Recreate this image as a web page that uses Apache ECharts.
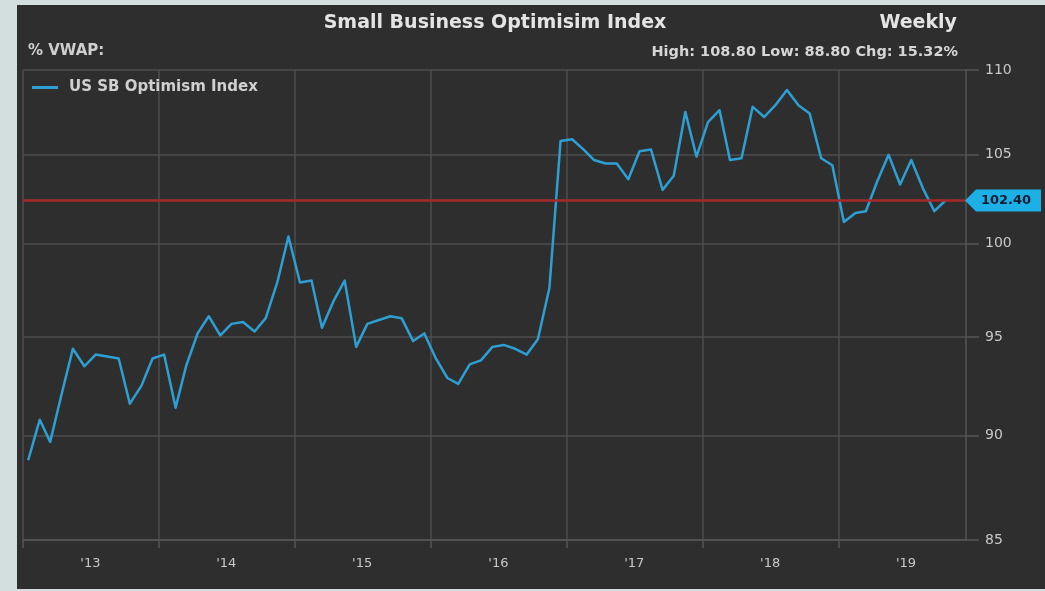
<!DOCTYPE html>
<html><head><meta charset="utf-8">
<script src="https://cdn.jsdelivr.net/npm/echarts@6/dist/echarts.min.js"></script>
<style>
html,body{margin:0;padding:0;width:1045px;height:591px;background:#d3dfdf;overflow:hidden}
#chart{position:absolute;left:17px;top:5px;width:1028px;height:584px;background:#2e2e2e}
</style></head><body><div id="chart"></div>
<script>
const months = [
 '2013-01-15','2013-02-15','2013-03-15','2013-04-15','2013-05-15','2013-06-15','2013-07-15','2013-08-15','2013-09-15','2013-10-15','2013-11-15','2013-12-15',
 '2014-01-15','2014-02-15','2014-03-15','2014-04-15','2014-05-15','2014-06-15','2014-07-15','2014-08-15','2014-09-15','2014-10-15','2014-11-15','2014-12-15',
 '2015-01-15','2015-02-15','2015-03-15','2015-04-15','2015-05-15','2015-06-15','2015-07-15','2015-08-15','2015-09-15','2015-10-15','2015-11-15','2015-12-15',
 '2016-01-15','2016-02-15','2016-03-15','2016-04-15','2016-05-15','2016-06-15','2016-07-15','2016-08-15','2016-09-15','2016-10-15','2016-11-15','2016-12-15',
 '2017-01-15','2017-02-15','2017-03-15','2017-04-15','2017-05-15','2017-06-15','2017-07-15','2017-08-15','2017-09-15','2017-10-15','2017-11-15','2017-12-15',
 '2018-01-15','2018-02-15','2018-03-15','2018-04-15','2018-05-15','2018-06-15','2018-07-15','2018-08-15','2018-09-15','2018-10-15','2018-11-15','2018-12-15',
 '2019-01-15','2019-02-15','2019-03-15','2019-04-15','2019-05-15','2019-06-15','2019-07-15','2019-08-15','2019-09-15','2019-10-15'
];
const values = [
 88.8, 90.8, 89.7, 92.1, 94.4, 93.5, 94.1, 94.0, 93.9, 91.6, 92.5, 93.9,
 94.1, 91.4, 93.5, 95.2, 96.1, 95.1, 95.7, 95.8, 95.3, 96.0, 97.9, 100.4,
 97.9, 98.0, 95.5, 96.9, 98.0, 94.5, 95.7, 95.9, 96.1, 96.0, 94.8, 95.2,
 93.9, 92.9, 92.6, 93.6, 93.8, 94.5, 94.6, 94.4, 94.1, 94.9, 97.6, 105.8,
 105.9, 105.3, 104.7, 104.5, 104.5, 103.6, 105.2, 105.3, 103.0, 103.8, 107.5, 104.9,
 106.9, 107.6, 104.7, 104.8, 107.8, 107.2, 107.9, 108.8, 107.9, 107.4, 104.8, 104.4,
 101.2, 101.7, 101.8, 103.5, 105.0, 103.3, 104.7, 103.1, 101.8, 102.4
];
const yTicks = [85, 90, 95, 100, 105, 110];
const yearStarts = ['2013-01-01','2014-01-01','2015-01-01','2016-01-01','2017-01-01','2018-01-01','2019-01-01'];
const yearLabels = ['2013-07-01','2014-07-01','2015-07-01','2016-07-01','2017-07-01','2018-07-01','2019-07-01'];
const xMin = '2013-01-01';
const xMax = '2019-12-09';
const yMin = 85, yMax = 110;
const seriesName = 'US SB Optimism Index';
const titleText = 'Small Business Optimisim Index';
const freqText = 'Weekly';
const leftNote = '% VWAP:';
const statsText = 'High: 108.80 Low: 88.80 Chg: 15.32%';

const ts = s => Date.parse(s + 'T00:00:00Z');
const lastValue = values[values.length - 1];
const data = months.map((m, i) => [ts(m), values[i]]);
const FONT = '"DejaVu Sans", "Liberation Sans", sans-serif';

const chart = echarts.init(document.getElementById('chart'), null, {renderer: 'canvas'});
chart.setOption({
  backgroundColor: '#2e2e2e',
  animation: false,
  textStyle: {fontFamily: FONT},
  graphic: [
    {type: 'text', x: 478, y: 18, style: {text: titleText, fill: '#e4e4e4', font: 'bold 19px ' + FONT, textAlign: 'center', textVerticalAlign: 'middle'}},
    {type: 'text', x: 940, y: 18, style: {text: freqText, fill: '#e4e4e4', font: 'bold 19px ' + FONT, textAlign: 'right', textVerticalAlign: 'middle'}},
    {type: 'text', x: 11, y: 46, style: {text: leftNote, fill: '#cfcfcf', font: 'bold 15px ' + FONT, textAlign: 'left', textVerticalAlign: 'middle'}},
    {type: 'text', x: 941, y: 47, style: {text: statsText, fill: '#d6d6d6', font: 'bold 14.5px ' + FONT, textAlign: 'right', textVerticalAlign: 'middle'}}
  ],
  legend: {
    left: 10, top: 70,
    data: [{name: seriesName, icon: 'rect'}],
    itemWidth: 26, itemHeight: 3, itemGap: 10,
    textStyle: {color: '#d0d0d0', fontSize: 15, fontWeight: 'bold', fontFamily: FONT, padding: [0, 0, 0, 6]}
  },
  grid: {left: 6, top: 65, right: 79, bottom: 49, containLabel: false},
  xAxis: {
    type: 'value', min: ts(xMin), max: ts(xMax),
    axisLine: {show: true, onZero: false, lineStyle: {color: '#555', width: 1.5}},
    axisTick: {show: true, customValues: yearStarts.map(ts), length: 8, lineStyle: {color: '#555', width: 1.5}},
    splitLine: {show: true, lineStyle: {color: '#4e4e4e', width: 1.5}},
    axisLabel: {
      customValues: yearLabels.map(ts), color: '#c8c8c8', fontSize: 13, margin: 17, fontFamily: FONT,
      formatter: v => "'" + String(new Date(v).getUTCFullYear()).slice(2)
    }
  },
  yAxis: {
    type: 'log', logBase: 10, min: yMin, max: yMax, position: 'right',
    axisLine: {show: true, lineStyle: {color: '#555', width: 1.5}},
    axisTick: {show: true, customValues: yTicks, length: 13, lineStyle: {color: '#555', width: 1.5}},
    splitLine: {show: true, lineStyle: {color: '#4e4e4e', width: 1.5}},
    axisLabel: {customValues: yTicks, color: '#c8c8c8', fontSize: 14, margin: 19, fontFamily: FONT}
  },
  series: [{
    name: seriesName, type: 'line', data: data, showSymbol: false, clip: false,
    lineStyle: {color: '#2d9fd3', width: 2.5, join: 'round'},
    itemStyle: {color: '#2d9fd3'},
    markLine: {
      silent: true, symbol: 'none', animation: false,
      label: {show: false},
      lineStyle: {color: '#a82828', width: 2.5, type: 'solid'},
      data: [{yAxis: lastValue}]
    },
    markPoint: {
      silent: true, animation: false,
      symbol: 'path://M0,11 L11,0 L76,0 L76,22 L11,22 Z',
      symbolSize: [76, 22], symbolOffset: [37, 0], symbolKeepAspect: false,
      itemStyle: {color: '#1db0e6'},
      label: {show: true, position: 'inside', offset: [3, 0],
        formatter: () => '{v|' + lastValue.toFixed(2) + '}',
        rich: {v: {color: '#0a1c30', fontSize: 13, fontWeight: 'bold', fontFamily: FONT, textBorderWidth: 0}}},
      data: [{coord: [ts(xMax), lastValue], value: lastValue}]
    }
  }]
});
</script></body></html>
